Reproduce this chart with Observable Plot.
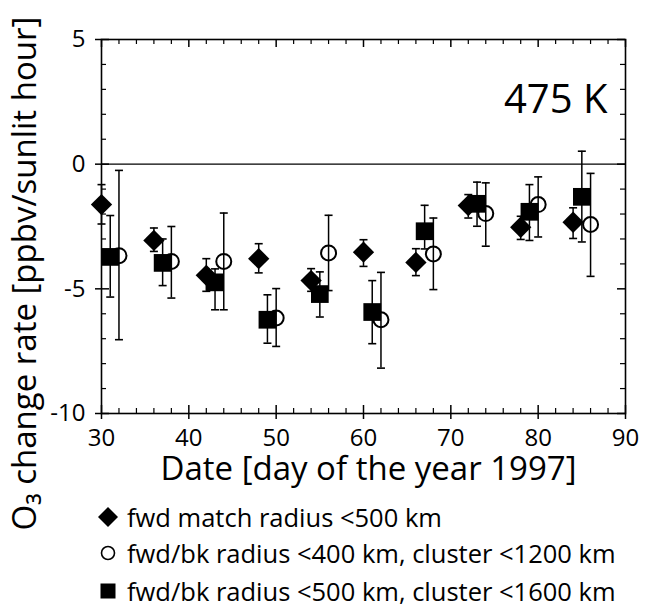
<!DOCTYPE html>
<html><head><meta charset="utf-8">
<script src="https://cdn.jsdelivr.net/npm/d3@7"></script>
<script src="https://cdn.jsdelivr.net/npm/@observablehq/plot@0.6"></script>
<style>
body{margin:0;background:#fff;}
#wrap{position:relative;width:649px;height:607px;font-family:"Open Sans",sans-serif;color:#000;}
#wrap svg{display:block;}
.lg{position:absolute;left:96px;height:36px;display:flex;align-items:center;font-size:25.5px;white-space:nowrap;}
.lg svg{width:24px;height:24px;margin-right:7px;}
</style></head>
<body><div id="wrap"></div>
<script>
// ---- data ----
const seriesLabels = [
  "fwd match radius <500 km",
  "fwd/bk radius <400 km, cluster <1200 km",
  "fwd/bk radius <500 km, cluster <1600 km"
];
// fwd match (diamonds)
const dDay = [30, 36, 42, 48, 54, 60, 66, 72, 78, 84];
const dVal = [-1.62, -3.06, -4.46, -3.79, -4.67, -3.53, -3.94, -1.66, -2.53, -2.33];
const dHi  = [-0.82, -2.56, -3.79, -3.19, -4.19, -3.03, -3.39, -1.22, -2.09, -1.75];
const dLo  = [-2.40, -3.50, -5.10, -4.36, -5.10, -4.10, -4.47, -2.16, -3.02, -2.98];
// fwd/bk <400 km (open circles)
const cDay = [32, 38, 44, 50, 56, 62, 68, 74, 80, 86];
const cVal = [-3.67, -3.90, -3.90, -6.17, -3.56, -6.24, -3.60, -1.98, -1.62, -2.42];
const cHi  = [-0.25, -2.50, -1.96, -4.99, -2.05, -4.34, -2.16, -0.75, -0.51, -0.37];
const cLo  = [-7.04, -5.37, -5.84, -7.31, -5.07, -8.18, -5.03, -3.29, -2.92, -4.50];
// fwd/bk <500 km (filled squares)
const sDay = [31, 37, 43, 49, 55, 61, 67, 73, 79, 85];
const sVal = [-3.72, -3.96, -4.74, -6.24, -5.21, -5.93, -2.69, -1.59, -1.91, -1.31];
const sHi  = [-2.06, -3.00, -4.20, -5.24, -4.32, -4.67, -1.65, -0.72, -0.82, 0.52];
const sLo  = [-5.33, -4.87, -5.84, -7.18, -6.13, -7.20, -3.40, -2.49, -3.06, -3.12];

const xTicks = [30, 40, 50, 60, 70, 80, 90];
const xMinor = [32, 34, 36, 38, 42, 44, 46, 48, 52, 54, 56, 58, 62, 64, 66, 68, 72, 74, 76, 78, 82, 84, 86, 88];
const yTicks = [-10, -5, 0, 5];
const yMinor = [-9, -8, -7, -6, -4, -3, -2, -1, 1, 2, 3, 4];
const xLabel = "Date [day of the year 1997]";
const yLabel = "O\u2083 change rate [ppbv/sunlit hour]";
const panelLabel = "475 K";

// ---- build ----
const rows = (day, val, lo, hi) => day.map((d, i) => ({day: d, val: val[i], lo: lo[i], hi: hi[i]}));
const D = rows(dDay, dVal, dLo, dHi);
const C = rows(cDay, cVal, cLo, cHi);
const S = rows(sDay, sVal, sLo, sHi);
const all = [...C, ...D, ...S];

const W = 649, H = 607, mL = 101, mR = 24, mT = 39, mB = 194;
const pw = W - mL - mR, ph = H - mT - mB;
const cap = {draw(ctx, size) { const r = Math.sqrt(size / Math.PI); ctx.moveTo(-r, 0); ctx.lineTo(r, 0); }};
const font = "Open Sans, sans-serif";

const chart = Plot.plot({
  width: W, height: H,
  marginLeft: mL, marginRight: mR, marginTop: mT, marginBottom: mB,
  style: {fontFamily: font, color: "#000", background: "#fff"},
  x: {domain: [30, 90]},
  y: {domain: [-10, 5]},
  marks: [
    Plot.ruleY([0], {stroke: "#000", strokeWidth: 1.2}),
    // minor & major inward ticks
    Plot.tickX(xMinor, {x: d => d, insetTop: ph - 5, strokeWidth: 1.2}),
    Plot.tickX(xMinor, {x: d => d, insetBottom: ph - 5, strokeWidth: 1.2}),
    Plot.tickX(xTicks, {x: d => d, insetTop: ph - 8, strokeWidth: 1.5}),
    Plot.tickX(xTicks, {x: d => d, insetBottom: ph - 8, strokeWidth: 1.5}),
    Plot.tickY(yMinor, {y: d => d, insetRight: pw - 5, strokeWidth: 1.2}),
    Plot.tickY(yMinor, {y: d => d, insetLeft: pw - 5, strokeWidth: 1.2}),
    Plot.tickY(yTicks, {y: d => d, insetRight: pw - 8, strokeWidth: 1.5}),
    Plot.tickY(yTicks, {y: d => d, insetLeft: pw - 8, strokeWidth: 1.5}),
    Plot.axisX({ticks: xTicks, tickSize: 6, tickPadding: 9, fontSize: 24, label: null, tickFormat: d => String(d), strokeWidth: 1.5}),
    Plot.axisY({ticks: yTicks, tickSize: 6, tickPadding: 10, fontSize: 24, label: null, tickFormat: d => String(d), strokeWidth: 1.5}),
    Plot.frame({stroke: "#000", strokeWidth: 1.6}),
    // error bars
    Plot.ruleX(all, {x: "day", y1: "lo", y2: "hi", stroke: "#000", strokeWidth: 1.5}),
    Plot.dot(all, {x: "day", y: "lo", symbol: cap, r: 4, stroke: "#000", strokeWidth: 1.6}),
    Plot.dot(all, {x: "day", y: "hi", symbol: cap, r: 4, stroke: "#000", strokeWidth: 1.6}),
    // markers
    Plot.dot(C, {x: "day", y: "val", symbol: "circle", r: 7.5, fill: "none", stroke: "#000", strokeWidth: 2}),
    Plot.dot(D, {x: "day", y: "val", symbol: "diamond2", r: 9.6, fill: "#000", stroke: "none"}),
    Plot.dot(S, {x: "day", y: "val", symbol: "square", r: 10, fill: "#000", stroke: "none"}),
    // text
    Plot.text([panelLabel], {text: d => d, frameAnchor: "top-right", textAnchor: "end", dx: -18, dy: 45, fontSize: 40, fill: "#000"}),
    Plot.text([xLabel], {text: d => d, frameAnchor: "bottom", dx: 5, dy: 66, fontSize: 33, fill: "#000"}),
    Plot.text([yLabel], {text: d => d, frameAnchor: "bottom-left", rotate: -90, textAnchor: "start", dx: -66, dy: 117, fontSize: 33, fill: "#000"})
  ]
});
const wrap = document.getElementById("wrap");
wrap.appendChild(chart);

// legend (HTML, below the plot area)
const sym = [
  '<svg viewBox="-12 -12 24 24"><path d="M0,-10L10,0L0,10L-10,0Z" fill="#000"/></svg>',
  '<svg viewBox="-12 -12 24 24"><circle r="6.5" fill="none" stroke="#000" stroke-width="1.6"/></svg>',
  '<svg viewBox="-12 -12 24 24"><rect x="-7.5" y="-7.5" width="15" height="15" fill="#000"/></svg>'
];
const tops = [499, 535, 573];
seriesLabels.forEach((t, i) => {
  const div = document.createElement("div");
  div.className = "lg";
  div.style.top = tops[i] + "px";
  div.innerHTML = sym[i];
  const span = document.createElement("span");
  span.textContent = t;
  div.appendChild(span);
  wrap.appendChild(div);
});
</script>
</body></html>
